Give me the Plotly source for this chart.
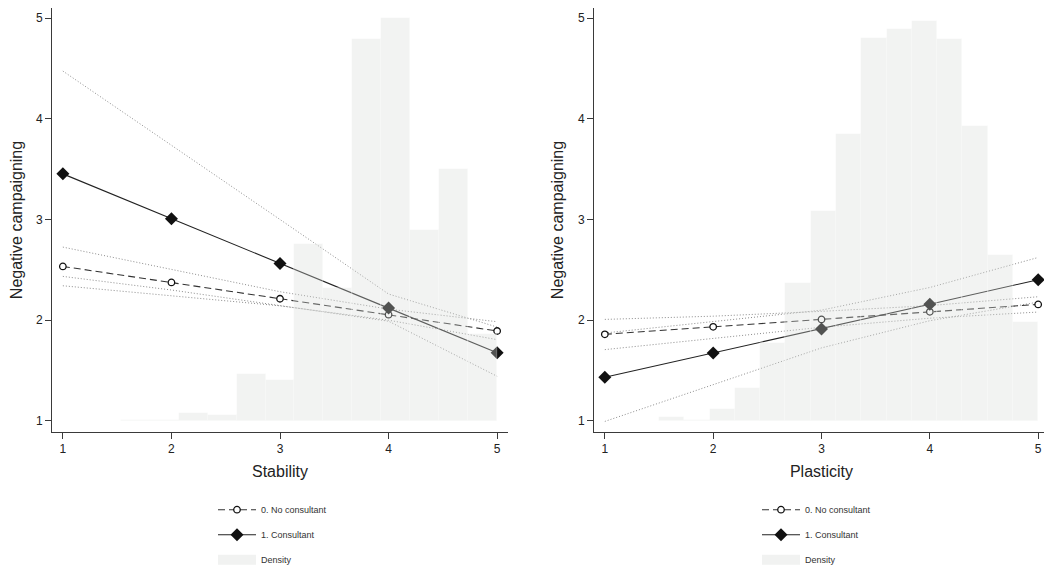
import numpy as np
import plotly.graph_objects as go

# ---------------- data ----------------
levels = [1, 2, 3, 4, 5]
tick_labels = ["1", "2", "3", "4", "5"]
y_ticks = [1, 2, 3, 4, 5]

# Stability panel (predictive margins)
stab_nocons = [2.534, 2.375, 2.213, 2.055, 1.893]
stab_nocons_lo = [2.342, 2.245, 2.143, 2.000, 1.807]
stab_nocons_hi = [2.726, 2.505, 2.283, 2.110, 1.985]
stab_cons = [3.453, 3.007, 2.564, 2.120, 1.678]
stab_cons_lo = [2.435, 2.300, 2.145, 1.990, 1.443]
stab_cons_hi = [4.474, 3.740, 3.000, 2.260, 1.932]

# Plasticity panel (predictive margins)
plas_nocons = [1.860, 1.934, 2.008, 2.083, 2.157]
plas_nocons_lo = [1.708, 1.822, 1.930, 2.020, 2.081]
plas_nocons_hi = [2.008, 2.040, 2.088, 2.145, 2.233]
plas_cons = [1.434, 1.675, 1.912, 2.159, 2.402]
plas_cons_lo = [0.995, 1.362, 1.725, 1.995, 2.180]
plas_cons_hi = [1.873, 1.985, 2.100, 2.325, 2.623]

# Histogram densities (15 bins each)
stab_density = [0.0004, 0.0004, 0.0015, 0.0022, 0.018, 0.013, 0.101, 0.089,
                 0.383, 0.289, 0.829, 0.874, 0.415, 0.547, 0.188]
stab_bin_start, stab_bin_width = 1.0, 4.0 / 15
plas_density = [0.0058, 0.0015, 0.0181, 0.0492, 0.116, 0.206, 0.313, 0.427,
                0.570, 0.583, 0.595, 0.568, 0.439, 0.247, 0.147]
plas_bin_start, plas_bin_width = 1.5, 3.5 / 15

# density per unit of the left axis (hidden second axis scaling)
stab_scale = 0.2186
plas_scale = 0.1499

# ---------------- style ----------------
FONT = "Liberation Sans, Arial, Helvetica, sans-serif"
AX_COL = "#3a3a3a"
TXT_COL = "#222222"
CI_COL = "#8c8c8c"
HIST_FILL = "rgba(215,218,216,0.33)"
SWATCH = "#f1f2f1"
W, H = 1044, 562      # page body adds an 8px margin
OFF = 8
XR = [0.9, 5.1]
YR = [0.89, 5.10]

fig = go.Figure()


def add_panel(xa, ya, yh, leg, nc, nc_lo, nc_hi, c, c_lo, c_hi,
              dens, bstart, bwidth):
    for arr in (nc_lo, nc_hi, c_lo, c_hi):
        fig.add_trace(go.Scatter(
            x=levels, y=arr, xaxis=xa, yaxis=ya, mode="lines",
            line=dict(color=CI_COL, width=1, dash="1px,2px"),
            showlegend=False, hoverinfo="skip"))
    fig.add_trace(go.Scatter(
        x=levels, y=nc, xaxis=xa, yaxis=ya, mode="lines+markers",
        name="0. No consultant", legend=leg, legendgroup=leg + "a",
        line=dict(color="#333333", width=1.1, dash="7px,4px"),
        marker=dict(symbol="circle", size=6.5, color="white",
                    line=dict(color="#111111", width=1.3))))
    fig.add_trace(go.Scatter(
        x=levels, y=c, xaxis=xa, yaxis=ya, mode="lines+markers",
        name="1. Consultant", legend=leg, legendgroup=leg + "b",
        line=dict(color="#222222", width=1.1),
        marker=dict(symbol="diamond", size=10, color="#111111",
                    line=dict(color="#111111", width=0))))
    centers = bstart + bwidth * (np.arange(len(dens)) + 0.5)
    fig.add_trace(go.Bar(
        x=centers, y=dens, width=bwidth, xaxis=xa, yaxis=yh,
        name="Density", showlegend=False,
        marker=dict(color=HIST_FILL,
                    line=dict(color="rgba(255,255,255,0.5)", width=0.6)),
        hoverinfo="skip"))
    # legend swatch for the histogram
    fig.add_trace(go.Scatter(
        x=[None], y=[None], xaxis=xa, yaxis=yh, mode="lines",
        name="Density", legend=leg, legendgroup=leg + "c",
        line=dict(color=SWATCH, width=10), hoverinfo="skip"))


add_panel("x", "y", "y3", "legend", stab_nocons, stab_nocons_lo, stab_nocons_hi,
          stab_cons, stab_cons_lo, stab_cons_hi, stab_density,
          stab_bin_start, stab_bin_width)
add_panel("x2", "y2", "y4", "legend2", plas_nocons, plas_nocons_lo, plas_nocons_hi,
          plas_cons, plas_cons_lo, plas_cons_hi, plas_density,
          plas_bin_start, plas_bin_width)

ydom = [1 - (432 - OFF) / H, 1.0]
common_x = dict(range=XR, showline=True, linecolor=AX_COL, linewidth=1,
                ticks="outside", ticklen=6, tickcolor=AX_COL, tickwidth=1,
                tickvals=levels, ticktext=tick_labels, showgrid=False,
                zeroline=False, automargin=False,
                tickfont=dict(size=12, color=TXT_COL, family=FONT))
common_y = dict(range=YR, showline=True, linecolor=AX_COL, linewidth=1,
                ticks="outside", ticklen=6, tickcolor=AX_COL, tickwidth=1,
                tickvals=y_ticks, showgrid=False, zeroline=False,
                automargin=False, domain=ydom,
                tickfont=dict(size=12, color=TXT_COL, family=FONT))

leg_common = dict(xanchor="left", y=1 - (495.2 - OFF) / H, yanchor="top",
                  font=dict(size=9, color="#333333", family=FONT),
                  bgcolor="rgba(0,0,0,0)", tracegroupgap=6, itemwidth=38)

fig.update_layout(
    width=W, height=H,
    margin=dict(l=0, r=0, t=0, b=0, autoexpand=False),
    paper_bgcolor="white", plot_bgcolor="rgba(0,0,0,0)",
    font=dict(family=FONT, color=TXT_COL),
    barmode="overlay", bargap=0,
    xaxis=dict(common_x, domain=[(52 - OFF) / W, (508 - OFF) / W], anchor="y",
               title=dict(text="Stability", font=dict(size=16, color=TXT_COL),
                          standoff=10)),
    yaxis=dict(common_y, anchor="x",
               title=dict(text="Negative campaigning",
                          font=dict(size=16, color=TXT_COL), standoff=10)),
    xaxis2=dict(common_x, domain=[(594 - OFF) / W, (1049 - OFF) / W], anchor="y2",
                title=dict(text="Plasticity", font=dict(size=16, color=TXT_COL),
                           standoff=10)),
    yaxis2=dict(common_y, anchor="x2",
                title=dict(text="Negative campaigning",
                           font=dict(size=16, color=TXT_COL), standoff=10)),
    yaxis3=dict(overlaying="y", anchor="x", visible=False,
                range=[(YR[0] - 1) * stab_scale, (YR[1] - 1) * stab_scale]),
    yaxis4=dict(overlaying="y2", anchor="x2", visible=False,
                range=[(YR[0] - 1) * plas_scale, (YR[1] - 1) * plas_scale]),
    legend=dict(leg_common, x=(213 - OFF) / W),
    legend2=dict(leg_common, x=(757 - OFF) / W),
)

fig.write_html("out.html")
